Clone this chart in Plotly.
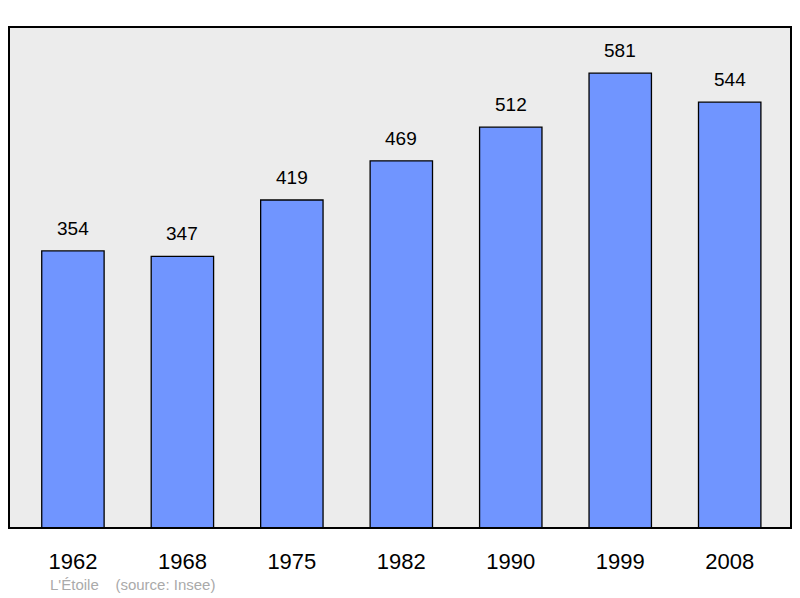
import plotly.graph_objects as go

years = ["1962", "1968", "1975", "1982", "1990", "1999", "2008"]
population = [354, 347, 419, 469, 512, 581, 544]

xs = list(range(len(years)))
fig = go.Figure(go.Bar(
    x=xs, y=population, width=0.57,
    marker=dict(color="#7095ff", line=dict(color="#000", width=1.3)),
))
ann = [dict(x=x, y=v, text=str(v), xref="x", yref="y", showarrow=False,
            yanchor="bottom", yshift=10, font=dict(size=19, color="#000"))
       for x, v in zip(xs, population)]
ann.append(dict(text="L'Étoile    (source: Insee)", xref="paper", yref="paper",
                x=(48 - 9) / 782, y=-0.112, xanchor="left", yanchor="middle",
                showarrow=False, font=dict(size=15, color="#aaaaaa")))
fig.update_layout(
    width=800, height=598,
    margin=dict(l=1, r=17, t=19, b=78),
    paper_bgcolor="white", plot_bgcolor="#ececec",
    font=dict(family="Liberation Sans", color="#000"),
    showlegend=False,
    xaxis=dict(range=[-0.584, 6.56], tickvals=xs, ticktext=years,
               tickfont=dict(size=22), showgrid=False, zeroline=False,
               ticks="outside", ticklen=14, tickcolor="rgba(0,0,0,0)"),
    yaxis=dict(range=[0, 640], visible=False),
    shapes=[dict(type="rect", xref="paper", yref="paper", x0=0, x1=1, y0=0, y1=1,
                 line=dict(color="#000", width=2))],
    annotations=ann,
)
fig.write_html("out.html")
